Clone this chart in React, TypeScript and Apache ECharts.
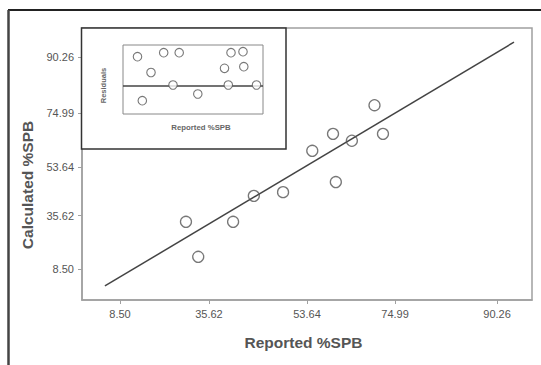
import React, { useEffect, useRef } from "react";
import * as echarts from "echarts";

// Tick labels as printed on the chart (positions are on an index-like scale)
const xTickLabels = ["8.50", "35.62", "53.64", "74.99", "90.26"];
const xTickPos = [1, 1.944, 2.984, 3.918, 5];
const yTickLabels = ["8.50", "35.62", "53.64", "74.99", "90.26"];
const yTickPos = [1, 2.009, 2.925, 3.943, 5];

// Main scatter: reported vs calculated (on the same index-like scale)
const reported = [1.70, 1.83, 2.20, 2.42, 2.73, 3.04, 3.29, 3.26, 3.46, 3.70, 3.79];
const calculated = [1.89, 1.23, 1.89, 2.38, 2.45, 3.23, 2.64, 3.55, 3.42, 4.09, 3.55];

// Regression line end points
const fitX = [0.84, 5.18];
const fitY = [0.68, 5.28];

// Inset residual plot
const insetX = [1.45, 2.8, 1.93, 4.07, 5.62, 5.0, 7.48, 10.15, 10.53, 10.8, 12.0, 12.08, 13.35];
const insetRes = [2.93, 1.35, -1.47, 3.33, 3.33, 0.1, -0.8, 1.77, 0.1, 3.33, 3.43, 1.93, 0.1];
const zeroLineX = [0, 14];

const FONT = "'Liberation Sans', Arial, sans-serif";

const labelFor = (pos: number[], labels: string[]) => (v: number) => {
  const i = pos.findIndex((p) => Math.abs(p - v) < 1e-6);
  return i >= 0 ? labels[i] : "";
};

export default function App() {
  const ref = useRef<HTMLDivElement>(null);
  useEffect(() => {
    if (!ref.current) return;
    const chart = echarts.init(ref.current, undefined, { renderer: "svg" });
    const axisGray = "#a0a0a0";
    chart.setOption({
      animation: false,
      backgroundColor: "#ffffff",
      textStyle: { fontFamily: FONT },
      grid: [
        {
          left: 82, top: 28, width: 450, height: 272, show: true,
          borderColor: axisGray, borderWidth: 1.5, z: 0,
        },
        {
          left: 123, top: 45, width: 140, height: 69, show: true,
          borderColor: "#888", borderWidth: 1, backgroundColor: "#fff", z: 3,
        },
      ],
      xAxis: [
        {
          type: "value", gridIndex: 0, min: 0.597, max: 5.371,
          name: "Reported %SPB", nameLocation: "middle", nameGap: 34,
          nameTextStyle: { fontSize: 15.5, fontWeight: "bold", color: "#555", fontFamily: FONT, padding: [0, 7, 0, 0] },
          axisLine: { show: true, lineStyle: { color: axisGray, width: 1.5 } },
          axisTick: { show: true, length: 4, customValues: xTickPos, lineStyle: { color: axisGray } },
          axisLabel: {
            customValues: xTickPos, formatter: labelFor(xTickPos, xTickLabels),
            fontSize: 11, color: "#555", margin: 8, fontFamily: FONT,
          },
          splitLine: { show: false },
        },
        {
          type: "value", gridIndex: 1, min: 0, max: 14, z: 4,
          name: "Reported %SPB", nameLocation: "middle", nameGap: 9.5,
          nameTextStyle: { fontSize: 7.8, fontWeight: "bold", color: "#666", fontFamily: FONT, padding: [0, 0, 0, 16] },
          axisLine: { show: false }, axisTick: { show: false }, axisLabel: { show: false },
          splitLine: { show: false },
        },
      ],
      yAxis: [
        {
          type: "value", gridIndex: 0, min: 0.415, max: 5.547,
          name: "Calculated %SPB", nameLocation: "middle", nameGap: 47,
          nameTextStyle: { fontSize: 15.5, fontWeight: "bold", color: "#555", fontFamily: FONT, padding: [0, 42, 0, 0] },
          axisLine: { show: true, lineStyle: { color: axisGray, width: 1.5 } },
          axisTick: { show: true, length: 4, customValues: yTickPos, lineStyle: { color: axisGray } },
          axisLabel: {
            customValues: yTickPos, formatter: labelFor(yTickPos, yTickLabels),
            fontSize: 11, color: "#555", margin: 8, fontFamily: FONT,
          },
          splitLine: { show: false },
        },
        {
          type: "value", gridIndex: 1, min: -2.8, max: 4.1, z: 4,
          name: "Residuals", nameLocation: "middle", nameGap: 16,
          nameTextStyle: { fontSize: 7.5, fontWeight: "bold", color: "#666", fontFamily: FONT, padding: [0, 12, 0, 0] },
          axisLine: { show: false }, axisTick: { show: false }, axisLabel: { show: false },
          splitLine: { show: false },
        },
      ],
      graphic: [
        {
          type: "rect", z: 1,
          shape: { x: 81.5, y: 28, width: 204.5, height: 121 },
          style: { fill: "#fff", stroke: "#333", lineWidth: 1.5 },
        },
        {
          type: "line", z: 10,
          shape: { x1: 8, y1: 10, x2: 541, y2: 10 },
          style: { stroke: "#222", lineWidth: 2 },
        },
        {
          type: "line", z: 10,
          shape: { x1: 8.5, y1: 10, x2: 8.5, y2: 365 },
          style: { stroke: "#444", lineWidth: 2.5 },
        },
      ],
      series: [
        {
          type: "line", xAxisIndex: 0, yAxisIndex: 0, z: 2,
          data: fitX.map((x, i) => [x, fitY[i]]),
          showSymbol: false, symbol: "none",
          lineStyle: { color: "#444", width: 1.5 },
        },
        {
          type: "scatter", xAxisIndex: 0, yAxisIndex: 0, z: 3,
          data: reported.map((x, i) => [x, calculated[i]]),
          symbol: "circle", symbolSize: 11,
          itemStyle: { color: "rgba(0,0,0,0)", borderColor: "#555", borderWidth: 1.3 },
        },
        {
          type: "line", xAxisIndex: 1, yAxisIndex: 1, z: 5,
          data: zeroLineX.map((x) => [x, 0]),
          showSymbol: false, symbol: "none",
          lineStyle: { color: "#444", width: 1.5 },
        },
        {
          type: "scatter", xAxisIndex: 1, yAxisIndex: 1, z: 6,
          data: insetX.map((x, i) => [x, insetRes[i]]),
          symbol: "circle", symbolSize: 8.5,
          itemStyle: { color: "#fff", borderColor: "#555", borderWidth: 1.1 },
        },
      ],
    });
    return () => chart.dispose();
  }, []);
  return (
    <div
      ref={ref}
      style={{ position: "absolute", left: 0, top: 0, width: 541, height: 365, background: "#fff" }}
    />
  );
}
